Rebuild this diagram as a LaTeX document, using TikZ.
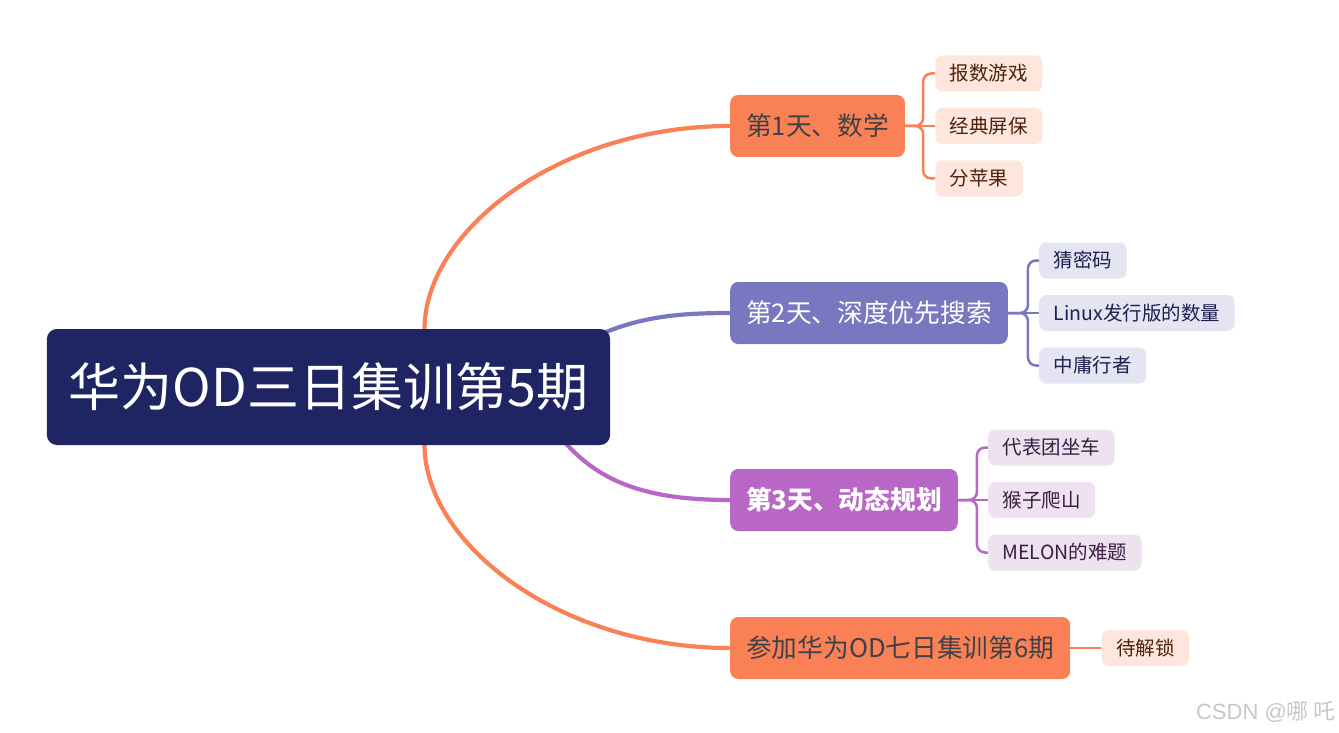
\documentclass[tikz,border=0pt]{standalone}
\usepackage{fontspec}
\setmainfont{Noto Sans CJK SC}
\newfontfamily\marksans{Liberation Sans}
\usetikzlibrary{backgrounds}
\definecolor{rootblue}{HTML}{1F2563}
\definecolor{coral}{HTML}{FA8156}
\definecolor{peach}{HTML}{FEE6DC}
\definecolor{slateviolet}{HTML}{7977BF}
\definecolor{lavender}{HTML}{E4E4F2}
\definecolor{orchid}{HTML}{B867C6}
\definecolor{lilac}{HTML}{EEE1F0}
\definecolor{darkgray}{HTML}{3F4146}
\definecolor{brown}{HTML}{4E220C}
\definecolor{navy}{HTML}{1D2050}
\definecolor{plum}{HTML}{3A1E42}

\begin{document}
\begin{tikzpicture} [x = 1pt, y = -1pt,
  root/.style = {fill = rootblue, text = white, rounded corners = 10pt, minimum height = 116pt, inner xsep = 22pt, text height = 45.5pt, text depth = 6.5pt, font = \fontsize{52}{52}\selectfont},
  day/.style = {rounded corners = 8pt, minimum height = 62pt, inner xsep = 16pt, anchor = west, text height = 22.6pt, text depth = 3.1pt, font = \fontsize{25.7}{26}\selectfont},
  leaf/.style = {rounded corners = 7pt, minimum height = 36pt, inner xsep = 14.5pt, anchor = west, text height = 17.2pt, text depth = 2.3pt, font = \fontsize{19.5}{20}\selectfont},
  bough/.style = {line width = 4.2pt},
  twig/.style = {line width = 2.5pt, rounded corners = 8pt}]
\useasboundingbox (0,0) rectangle (1339,733);

\node[root] (r) at (328.5,387) {华为OD三日集训第5期};

\node[day, fill = coral, text = darkgray] (d1) at (730,126) {第1天、数学};
\node[day, fill = slateviolet, text = white] (d2) at (730,313) {第2天、深度优先搜索};
\node[day, fill = orchid, text = white, font = \fontsize{25.7}{26}\selectfont\bfseries] (d3) at (730,500) {第3天、动态规划};
\node[day, fill = coral, text = darkgray] (d4) at (730,648) {参加华为OD七日集训第6期};

\node[leaf, fill = peach, text = brown] (l11) at ([xshift = 30pt, yshift = 52.5pt]d1.east) {报数游戏};
\node[leaf, fill = peach, text = brown] (l12) at ([xshift = 30pt]d1.east) {经典屏保};
\node[leaf, fill = peach, text = brown] (l13) at ([xshift = 30pt, yshift = -52.5pt]d1.east) {分苹果};
\node[leaf, fill = lavender, text = navy] (l21) at ([xshift = 31pt, yshift = 52.5pt]d2.east) {猜密码};
\node[leaf, fill = lavender, text = navy] (l22) at ([xshift = 31pt]d2.east) {Linux发行版的数量};
\node[leaf, fill = lavender, text = navy] (l23) at ([xshift = 31pt, yshift = -52.5pt]d2.east) {中庸行者};
\node[leaf, fill = lilac, text = plum] (l31) at ([xshift = 30pt, yshift = 52.5pt]d3.east) {代表团坐车};
\node[leaf, fill = lilac, text = plum] (l32) at ([xshift = 30pt]d3.east) {猴子爬山};
\node[leaf, fill = lilac, text = plum] (l33) at ([xshift = 30pt, yshift = -52.5pt]d3.east) {MELON的难题};
\node[leaf, fill = peach, text = brown] (l41) at ([xshift = 31pt]d4.east) {待解锁};

\node[text = black!22, anchor = east, inner sep = 0pt, font = \fontsize{22}{22}\selectfont] (wm) at (1336,712) {{\marksans CSDN @}哪 吒};

\begin{scope}[on background layer]
\draw [bough, color = coral] ([xshift = 96pt, yshift = 58pt]r.center) .. controls (425,230) and (560,126) .. (d1.west);
\draw [bough, color = slateviolet] ([xshift = 231.5pt, yshift = 32pt]r.center) .. controls (620,320) and (660,313) .. (d2.west);
\draw [bough, color = orchid] ([xshift = 216.5pt, yshift = -28pt]r.center) .. controls (585,480) and (640,500) .. (d3.west);
\draw [bough, color = coral] ([xshift = 96pt, yshift = -58pt]r.center) .. controls (425,544) and (560,648) .. (d4.west);
\end{scope}

\coordinate (j1) at ([xshift = 18pt]d1.east);
\coordinate (j2) at ([xshift = 20pt]d2.east);
\coordinate (j3) at ([xshift = 19pt]d3.east);
\draw [twig, color = coral] (d1.east) -- (j1) |- (l11.west);
\draw [twig, color = coral] (d1.east) -- (l12.west);
\draw [twig, color = coral] (d1.east) -- (j1) |- (l13.west);
\draw [twig, color = slateviolet] (d2.east) -- (j2) |- (l21.west);
\draw [twig, color = slateviolet] (d2.east) -- (l22.west);
\draw [twig, color = slateviolet] (d2.east) -- (j2) |- (l23.west);
\draw [twig, color = orchid] (d3.east) -- (j3) |- (l31.west);
\draw [twig, color = orchid] (d3.east) -- (l32.west);
\draw [twig, color = orchid] (d3.east) -- (j3) |- (l33.west);
\draw [twig, color = coral] (d4.east) -- (l41.west);
\end{tikzpicture}
\end{document}
